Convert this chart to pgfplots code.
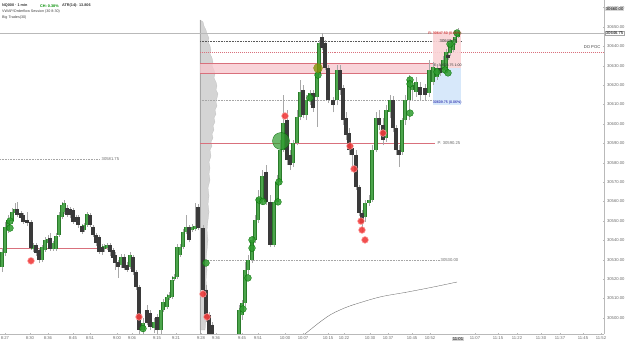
\documentclass[border=0pt]{standalone}
\usepackage{fontspec}
\setmainfont{Liberation Sans}
\usepackage{pgfplots}
\pgfplotsset{compat=1.18}
\usepackage{pgfplotstable}

\definecolor{bull}{HTML}{4CA64C}
\definecolor{bulledge}{HTML}{2A7A2A}
\definecolor{bear}{HTML}{3A3A3A}
\definecolor{wick}{HTML}{A8A8A8}
\definecolor{gdot}{HTML}{2E9B2E}
\definecolor{rdot}{HTML}{F03C3C}
\definecolor{zonepink}{HTML}{F7C6CC}
\definecolor{zoneedge}{HTML}{D9707C}
\definecolor{boxpink}{HTML}{F9D3D5}
\definecolor{boxblue}{HTML}{D3E6FA}
\definecolor{txtgray}{HTML}{6A6A6A}

\pgfplotstableread{
x o h l c
2 30526.25 30536.00 30523.75 30534.00
5 30533.50 30549.50 30532.00 30547.00
8 30545.25 30553.00 30543.75 30550.50
12 30550.00 30556.75 30548.50 30554.50
15 30554.00 30559.25 30553.00 30556.25
33 30535.50 30538.50 30534.00 30537.50
42 30530.00 30537.50 30528.75 30536.50
45 30535.00 30541.75 30534.00 30540.25
48 30538.50 30542.75 30537.50 30540.75
53 30535.50 30539.50 30534.50 30538.50
56 30535.50 30543.75 30534.50 30542.25
59 30542.75 30554.50 30541.75 30553.00
62 30552.00 30559.75 30551.00 30558.25
64 30554.50 30560.75 30553.50 30559.25
84 30545.25 30549.00 30544.25 30548.00
87 30548.00 30554.50 30547.00 30553.50
104 30535.50 30538.00 30534.00 30537.00
107 30536.00 30538.50 30535.00 30537.50
121 30527.25 30533.00 30525.75 30531.50
130 30526.25 30534.00 30525.25 30532.50
143 30493.75 30500.00 30491.50 30497.50
154 30494.75 30500.00 30492.00 30498.00
161 30493.75 30506.00 30491.50 30504.00
163 30504.00 30509.75 30503.00 30508.25
167 30505.50 30512.25 30504.50 30510.75
169 30510.25 30513.25 30509.25 30511.75
172 30510.75 30521.50 30509.75 30519.50
174 30520.00 30522.50 30519.00 30521.00
177 30521.00 30538.00 30520.00 30536.50
180 30532.50 30538.00 30531.50 30536.50
183 30536.50 30545.75 30535.50 30544.25
186 30544.25 30553.00 30543.25 30547.00
192 30545.25 30548.50 30544.25 30547.00
195 30545.75 30559.25 30544.75 30547.50
239 30488.00 30506.75 30485.00 30504.00
242 30501.50 30509.25 30499.00 30507.75
245 30507.75 30528.75 30506.00 30524.75
248 30524.75 30532.50 30522.00 30530.00
252 30530.00 30542.25 30528.25 30540.25
255 30540.25 30553.00 30538.50 30550.50
258 30550.50 30566.00 30549.00 30561.75
262 30560.75 30576.25 30558.25 30573.25
274 30537.50 30560.75 30536.50 30559.75
277 30559.75 30573.75 30558.25 30570.00
280 30570.00 30591.75 30568.50 30586.50
283 30586.50 30615.00 30585.50 30600.50
293 30579.75 30591.75 30577.75 30590.25
297 30590.25 30607.25 30589.00 30603.50
300 30603.50 30622.75 30602.00 30616.50
306 30604.50 30615.00 30602.00 30612.25
310 30612.25 30617.50 30609.75 30616.00
317 30613.75 30627.75 30598.50 30626.25
319 30626.25 30643.25 30625.25 30641.75
337 30612.25 30630.50 30609.75 30627.75
365 30552.00 30560.75 30549.50 30559.25
369 30559.25 30563.50 30557.75 30560.75
372 30560.75 30589.00 30559.75 30586.50
376 30586.50 30606.25 30585.50 30603.00
386 30592.75 30609.75 30590.75 30607.25
390 30606.25 30615.00 30603.00 30612.25
402 30585.50 30603.00 30584.00 30602.00
405 30602.00 30615.00 30599.50 30612.25
409 30612.25 30625.25 30602.00 30622.75
412 30617.50 30622.75 30612.25 30620.00
416 30616.50 30624.00 30614.00 30621.50
429 30616.00 30633.00 30614.00 30627.75
433 30621.50 30632.00 30620.00 30629.25
437 30624.25 30630.75 30622.75 30628.75
443 30627.75 30635.00 30626.25 30633.00
446 30627.75 30638.75 30626.25 30637.00
450 30636.50 30643.25 30635.00 30641.75
453 30638.00 30644.75 30637.00 30643.25
455 30641.75 30648.50 30640.75 30645.00
458 30645.00 30649.50 30644.25 30646.75
}\bulltab

\pgfplotstableread{
x o h l c
17 30556.25 30559.75 30552.00 30553.00
21 30554.00 30555.00 30550.50 30551.50
23 30553.00 30554.00 30548.50 30549.50
27 30550.50 30554.50 30547.50 30549.00
31 30549.50 30550.50 30535.00 30536.00
36 30537.50 30538.50 30532.00 30533.50
39 30535.00 30536.00 30528.25 30530.00
50 30541.25 30543.75 30534.50 30535.50
67 30556.75 30558.25 30552.00 30553.00
70 30556.00 30557.25 30551.50 30553.00
73 30555.50 30556.75 30548.50 30549.50
76 30552.00 30553.00 30548.50 30549.50
78 30552.00 30553.00 30546.25 30548.00
82 30547.50 30548.50 30543.25 30544.25
90 30553.00 30554.00 30547.00 30548.00
93 30547.00 30548.00 30541.75 30542.75
96 30542.75 30543.75 30537.00 30538.50
99 30541.75 30542.75 30533.00 30534.00
102 30536.50 30538.00 30532.50 30534.00
110 30537.50 30538.50 30532.00 30534.00
113 30535.00 30536.00 30528.75 30531.00
115 30532.50 30534.00 30524.75 30528.25
118 30528.75 30530.00 30520.50 30526.25
124 30531.50 30533.00 30524.75 30525.75
127 30527.25 30528.75 30523.75 30524.75
133 30531.50 30532.50 30522.00 30523.75
136 30523.75 30524.75 30514.50 30516.00
139 30516.00 30517.00 30491.50 30493.75
147 30504.00 30506.75 30496.50 30497.50
150 30502.50 30504.00 30493.75 30495.25
157 30500.50 30502.00 30491.50 30493.75
189 30547.00 30548.00 30539.00 30540.25
198 30557.25 30558.75 30545.25 30546.25
203 30546.25 30547.75 30511.75 30514.50
206 30514.50 30517.00 30498.00 30500.00
209 30501.50 30503.00 30489.00 30491.00
212 30496.50 30498.00 30485.00 30488.00
266 30575.25 30578.75 30558.25 30559.75
270 30559.75 30563.50 30536.50 30537.50
287 30602.00 30607.25 30578.75 30581.50
290 30584.00 30586.50 30576.25 30578.75
303 30617.50 30620.00 30603.00 30604.50
313 30616.00 30617.50 30606.25 30608.25
322 30644.75 30646.75 30638.00 30639.25
325 30641.75 30643.25 30627.75 30628.75
328 30628.75 30630.50 30610.75 30612.25
333 30612.25 30614.00 30606.00 30609.75
340 30627.75 30630.50 30615.00 30617.50
343 30618.50 30620.00 30599.50 30602.00
346 30603.00 30606.25 30591.75 30594.25
349 30595.25 30598.00 30584.00 30586.50
352 30587.50 30590.25 30577.75 30584.00
356 30584.00 30586.50 30566.00 30567.50
359 30567.50 30568.50 30552.50 30554.00
362 30554.00 30555.50 30544.25 30549.00
379 30603.00 30607.25 30597.00 30599.50
383 30599.50 30603.00 30589.00 30591.75
393 30612.25 30614.50 30595.75 30597.75
396 30597.75 30599.50 30584.00 30586.50
399 30586.50 30589.00 30577.75 30584.00
420 30619.00 30621.50 30612.25 30615.00
425 30618.50 30620.50 30612.25 30615.00
440 30628.75 30630.50 30624.75 30626.25
448 30635.50 30637.00 30633.00 30634.00
}\beartab

\pgfplotstableread{
x y
10 30549.9
10 30546.3
206 30528.3
143 30494.5
243 30504.6
248 30520.6
252 30540.2
252 30536.0
259 30560.8
263 30560.0
278 30559.8
279 30570.1
310 30613.4
318 30625.2
410 30622.7
410 30620.6
410 30605.6
437 30626.8
445 30627.8
448 30626.3
450 30641.2
457 30646.9
}\greendots

\pgfplotstableread{
x y
31 30529.4
139 30500.5
203 30512.3
207 30500.5
285 30604.1
350 30588.6
354 30576.8
361 30549.9
362 30545.3
365 30540.2
383 30595.3
}\reddots

\newcommand{\tl}{\fontsize{4.2}{5}\selectfont}

\begin{document}
\begin{tikzpicture}
\useasboundingbox (0bp,-10bp) rectangle (625bp,334bp);
\begin{axis}[
  scale only axis, width=604bp, height=334bp,
  xmin=0, xmax=604, ymin=30491.7, ymax=30663.9,
  scaled y ticks=false, scaled x ticks=false,
  clip mode=individual,
  axis x line*=bottom, axis y line*=right,
  axis line style={draw=gray!55, line width=0.4pt},
  major tick length=1.2bp,
  tick style={draw=gray!55, line width=0.3pt},
  ytick={30500,30510,...,30660},
  yticklabel style={font=\tl, text=txtgray, anchor=west, xshift=-0.5bp},
  yticklabel={\pgfmathprintnumber[fixed,fixed zerofill,precision=2,1000 sep={}]{\tick}},
  /pgf/number format/assume math mode=true,
  xtick={5,30,48,73,90,117,132,157,176,201,216,242,258,285,303,328,344,370,388,412,430,475,498,517,541,560,583,601},
  xticklabels={8:27,8:30,8:36,8:45,8:51,9:00,9:06,9:15,9:21,9:28,9:36,9:45,9:51,10:00,10:07,10:15,10:22,10:30,10:37,10:45,10:52,11:07,11:15,11:22,11:30,11:37,11:45,11:52},
  xticklabel style={font=\tl, text=txtgray, yshift=1.2bp},
]

% volume profile
\addplot[fill=gray!40, draw=gray!55, line width=0.2pt, fill opacity=0.85] coordinates {
(200,30653.6) (203,30652.6) (204,30650.5) (206,30648.4) (207,30646.4) (209,30644.3) (208,30642.3) (210,30640.2)
(211,30638.1) (210,30636.1) (212,30634.0) (213,30631.9) (212,30629.9) (214,30627.8) (215,30625.8) (214,30623.7)
(216,30621.6) (217,30619.6) (216,30617.5) (218,30615.5) (217,30613.4) (216,30611.3) (217,30609.3) (215,30607.2)
(216,30605.1) (214,30603.1) (215,30601.0) (213,30599.0) (214,30596.9) (212,30594.8) (213,30592.8) (211,30590.7)
(212,30588.6) (210,30586.6) (211,30583.5) (209,30580.4) (210,30577.3) (209,30574.2) (210,30571.1) (208,30567.0)
(209,30562.9) (208,30558.7) (209,30554.6) (208,30550.4) (207,30545.3) (208,30540.2) (207,30535.0) (206,30529.9)
(207,30524.7) (206,30519.6) (207,30514.4) (206,30509.3) (205,30504.1) (206,30498.9) (205,30493.8) (200,30493.8)
} -- cycle;

% session separator
\draw[gray!70, line width=0.5pt] (axis cs:200.5,30653.6) -- (axis cs:200.5,30491.7);

% horizontal levels
\draw[gray!55, line width=0.3pt] (axis cs:0,30646.75) -- (axis cs:604,30646.75);
\draw[gray!70!black, line width=0.3pt, dash pattern=on 0.8pt off 0.8pt] (axis cs:200,30642.75) -- (axis cs:462,30642.75);
\draw[zoneedge, line width=0.35pt, dash pattern=on 1pt off 1pt] (axis cs:200,30637.0) -- (axis cs:604,30637.0);
\fill[zonepink, fill opacity=0.75] (axis cs:200,30631.4) rectangle (axis cs:435,30626.3);
\draw[zoneedge, line width=0.4pt] (axis cs:200,30631.4) -- (axis cs:435,30631.4);
\draw[zoneedge, line width=0.4pt] (axis cs:200,30626.3) -- (axis cs:435,30626.3);
\draw[gray!70, line width=0.3pt, dash pattern=on 0.8pt off 0.8pt] (axis cs:200,30612.3) -- (axis cs:440,30612.3);
\draw[zoneedge, line width=0.35pt] (axis cs:200,30590.25) -- (axis cs:435,30590.25);
\draw[gray!70, line width=0.3pt, dash pattern=on 0.8pt off 0.8pt] (axis cs:0,30581.75) -- (axis cs:100,30581.75);
\draw[zoneedge, line width=0.35pt] (axis cs:0,30536.0) -- (axis cs:110,30536.0);
\draw[gray!70, line width=0.3pt, dash pattern=on 0.8pt off 0.8pt] (axis cs:200,30530.0) -- (axis cs:440,30530.0);

% position box
\fill[boxpink, fill opacity=0.9] (axis cs:433,30647.4) rectangle (axis cs:461,30628.8);
\fill[boxblue, fill opacity=0.9] (axis cs:433,30628.8) rectangle (axis cs:461,30609.8);

% VWAP-like curve
\addplot[gray!80!black, line width=0.35pt, smooth] coordinates {
(300,30489.7) (310,30493.8) (320,30497.9) (330,30501.5) (340,30504.1) (353,30506.7) (380,30510.8) (407,30513.3) (433,30515.9) (457,30518.5)};

% wicks (low to high)
\addplot[wick, line width=0.5bp, -, quiver={u=0, v=\thisrow{h}-\thisrow{l}}] table[x=x, y=l] {\bulltab};
\addplot[wick, line width=0.5bp, -, quiver={u=0, v=\thisrow{h}-\thisrow{l}}] table[x=x, y=l] {\beartab};
% bodies (open to close)
\addplot[bulledge, line width=3.8bp, -, quiver={u=0, v=\thisrow{c}-\thisrow{o}}] table[x=x, y=o] {\bulltab};
\addplot[bull, line width=2.4bp, -, quiver={u=0, v=\thisrow{c}-\thisrow{o}}] table[x=x, y=o] {\bulltab};
\addplot[bear, line width=3.8bp, -, quiver={u=0, v=\thisrow{c}-\thisrow{o}}] table[x=x, y=o] {\beartab};

% big trade bubbles
\addplot[only marks, mark=*, mark size=3.4bp, mark options={fill=gdot, draw=green!45!black, fill opacity=0.85, line width=0.3pt}] table[x=x,y=y] {\greendots};
\addplot[only marks, mark=*, mark size=3.4bp, mark options={fill=rdot, draw=red!35, fill opacity=0.9, line width=0.5pt}] table[x=x,y=y] {\reddots};
\addplot[only marks, mark=*, mark size=8.5bp, mark options={fill=gdot, draw=green!40!black, fill opacity=0.7, line width=0.3pt}] coordinates {(281,30591.2)};
\addplot[only marks, mark=*, mark size=4.5bp, mark options={fill=olive!80!green, draw=olive, fill opacity=0.8, line width=0.3pt}] coordinates {(318,30628.8)};

% level labels
\node[font=\tl, text=txtgray, anchor=west, inner sep=0.5pt] at (axis cs:101,30581.75) {30581.75};
\node[font=\tl, text=txtgray, anchor=west, inner sep=0.5pt] at (axis cs:437,30590.25) {P: 30590.25};
\node[font=\tl, text=txtgray, anchor=west, inner sep=0.5pt] at (axis cs:440,30530.0) {30530.00};
\node[font=\tl, text=black!80, anchor=west, inner sep=0.5pt] at (axis cs:439,30642.75) {30642.75};
\node[font=\tl, text=black!75, anchor=east, inner sep=0.5pt] at (axis cs:601,30639.6) {DO POC};
\node[font=\fontsize{3.6}{4}\selectfont, text=red!75!black, anchor=east, inner sep=0.3pt] at (axis cs:462,30646.5) {R: 30647.50 (0.06\%)};
\node[font=\fontsize{3.6}{4}\selectfont, text=black!80, anchor=east, inner sep=0.3pt] at (axis cs:462,30630.3) {E: 30628.75 1:00};
\node[font=\fontsize{3.6}{4}\selectfont, text=blue!60!black, anchor=east, inner sep=0.3pt] at (axis cs:462,30610.8) {30609.75 (0.06\%)};

% price axis highlights
\node[font=\tl, text=black, fill=gray!30, anchor=west, inner sep=0.7pt] at (axis cs:605,30659.3) {30660.00};
\node[font=\tl, text=black, fill=white, draw=gray!70, line width=0.3pt, anchor=west, inner sep=0.7pt] at (axis cs:605,30646.75) {30646.75};
\end{axis}

% time highlight
\node[font=\tl, text=black, fill=gray!35, inner sep=0.7pt] at (458bp,-4.8bp) {11:01};

% header
\node[font=\fontsize{3.8}{4.5}\selectfont\bfseries, text=black!80, anchor=west, inner sep=0] at (2bp,328bp) {NQ000 · 1 min};
\node[font=\fontsize{3.8}{4.5}\selectfont\bfseries, text=green!55!black, anchor=west, inner sep=0] at (40bp,328bp) {CH: 0.38\%};
\node[font=\fontsize{3.8}{4.5}\selectfont\bfseries, text=black!80, anchor=west, inner sep=0] at (62bp,328bp) {ATR(14): 13.806};
\node[font=\fontsize{3.7}{4.5}\selectfont, text=black!75, anchor=west, inner sep=0] at (2bp,322bp) {VWAP/Orderflow Session (30 8:30)};
\node[font=\fontsize{3.7}{4.5}\selectfont, text=black!75, anchor=west, inner sep=0] at (2bp,316bp) {Big Trades(30)};
\end{tikzpicture}
\end{document}
